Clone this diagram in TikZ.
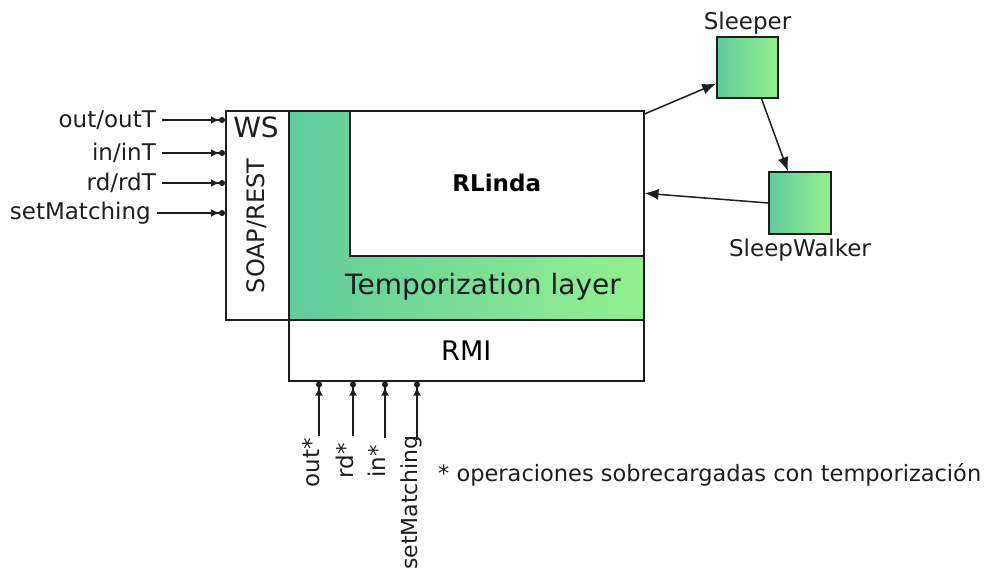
\documentclass[tikz,border=0pt]{standalone}
\usepackage{fontspec}
\setmainfont{DejaVu Sans}
\usetikzlibrary{arrows.meta,positioning}
\definecolor{tealgreen}{RGB}{96,204,158}
\definecolor{lightgreen}{RGB}{148,240,142}
\definecolor{ink}{RGB}{30,30,30}
\begin{document}
\begin{tikzpicture}[x=1pt,y=-1pt,>={Latex[length=14pt,width=11pt]},
  box/.style={draw=ink,line width=1.5pt,inner sep=0pt},
  grn/.style={left color=tealgreen,right color=lightgreen},
  lbl/.style={text=ink,font=\fontsize{23}{23}\selectfont,inner sep=2pt},
  feed/.style={draw=ink,line width=1.4pt,-{Latex[length=8pt,width=8pt]Circle[length=6pt]}},
  flow/.style={draw=ink,line width=1.5pt,->}]
\useasboundingbox (0,0) rectangle (997,573);
% layers
\node[box,anchor=north west,minimum width=63,minimum height=209] (ws) at (225,110) {};
\node[box,grn,anchor=north west,minimum width=355,minimum height=209] (tl) at (288,110) {};
\node[box,fill=white,anchor=north west,minimum width=294,minimum height=145,font=\fontsize{23}{23}\selectfont\bfseries] (rl) at (349,110) {RLinda};
\node[box,anchor=north west,minimum width=355,minimum height=61,font=\fontsize{27}{27}\selectfont] (rmi) at (288,319) {RMI};
\node[text=ink,font=\fontsize{28}{28}\selectfont] (tlt) at (483,287) {Temporization layer};
\node[text=ink,font=\fontsize{28}{28}\selectfont] (wst) at (256,127) {WS};
\node[text=ink,font=\fontsize{24}{24}\selectfont,rotate=90] (soap) at (257,226) {SOAP/REST};
% threads
\node[box,grn,minimum width=61,minimum height=61] (sl) at (747.5,67.5) {};
\node[lbl,above=0pt of sl] (slt) {Sleeper};
\node[box,grn,minimum width=62,minimum height=62] (sw) at (800,203) {};
\node[lbl,below=2pt of sw] (swt) {SleepWalker};
\draw[flow] ([yshift=-4pt]rl.north east) -- ([yshift=-16pt]sl.west);
\draw[flow] ([xshift=14pt]sl.south) -- ([xshift=-12pt]sw.north);
\draw[flow] (sw.west) -- ([yshift=-10pt]rl.east);
% web service operations
\node[lbl,anchor=east] (i1) at (158,120) {out/outT};
\node[lbl,anchor=east] (i2) at (158,153) {in/inT};
\node[lbl,anchor=east] (i3) at (158,183) {rd/rdT};
\node[lbl,anchor=east] (i4) at (153,213) {setMatching};
\foreach \i in {1,...,4}
  \draw[feed] ([xshift=4pt]i\i.east) -- (ws.west |- i\i.east);
% RMI operations
\coordinate (b1) at (319,436);
\coordinate (b2) at (353,436);
\coordinate (b3) at (385,438);
\coordinate (b4) at (417,440);
\node[lbl,rotate=90,anchor=east] (o1) at (311,436) {out*};
\node[lbl,rotate=90,anchor=east] (o2) at (345,441) {rd*};
\node[lbl,rotate=90,anchor=east] (o3) at (377,443) {in*};
\node[lbl,rotate=90,anchor=east,font=\fontsize{22}{22}\selectfont] (o4) at (411,433) {setMatching};
\foreach \i in {1,...,4}
  \draw[feed] (b\i) -- (b\i |- rmi.south);
\node[lbl,anchor=west,font=\fontsize{22.5}{22.5}\selectfont] (note) at (436,475) {* operaciones sobrecargadas con temporización};
\end{tikzpicture}
\end{document}
